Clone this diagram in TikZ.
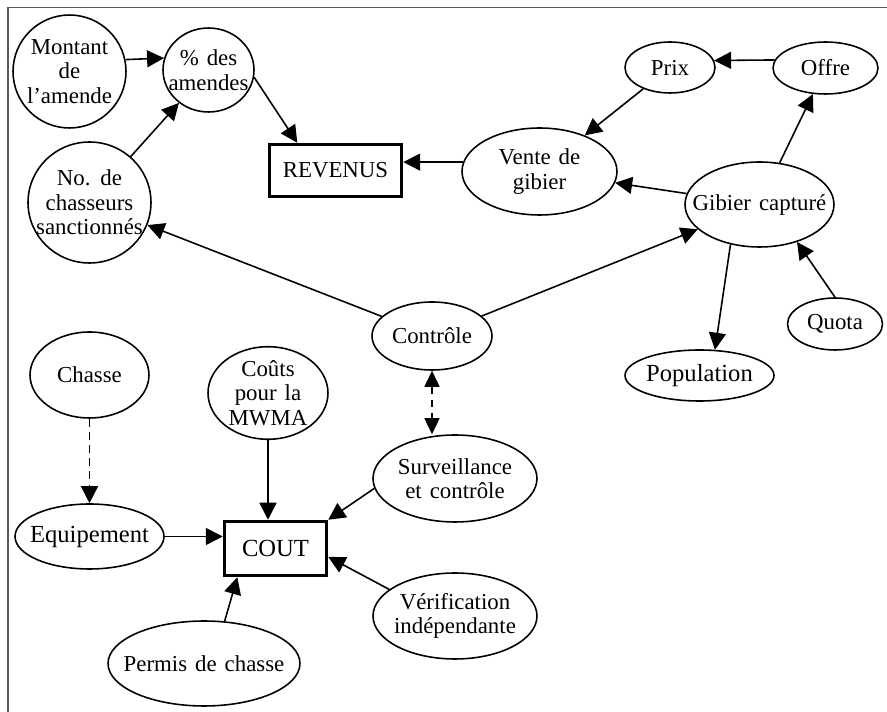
\documentclass[tikz,border=0pt]{standalone}
\usepackage{fontspec}
\setmainfont{Liberation Serif}
\usetikzlibrary{shapes.geometric,arrows.meta}
\newcommand\nodefont{\fontsize{13}{14}\selectfont\spaceskip=0.35em\relax}
\newcommand\bigfont{\fontsize{14}{15}\selectfont\spaceskip=0.35em\relax}

\begin{document}
\begin{tikzpicture}[x=0.02cm,y=-0.02cm,
	font=\nodefont,
	bigger/.style={font=\bigfont},
	bubble/.style 2 args={ellipse,draw,line width=0.9pt,inner xsep=-20pt,inner ysep=0pt,
		align=center,minimum width=#1,minimum height=#2},
	total/.style 2 args={rectangle,draw,line width=2pt,minimum width=#1,minimum height=#2},
	link/.style={-{Triangle[length=0.34cm,width=0.34cm]},line width=0.9pt},
	maybe/.style={link,dash pattern=on 4.5pt off 3pt},
	both/.style={{Triangle[length=0.32cm,width=0.3cm]}-{Triangle[length=0.32cm,width=0.3cm]},
		line width=0.9pt,dash pattern=on 4.5pt off 3pt}]
	\useasboundingbox (0,0) rectangle (887,712);
	% frame
	\draw[line width=0.9pt,black!65] (887,7.5) -- (8,7.5) -- (8,712);
	% revenue side
	\node[bubble={2.26cm}{2.26cm}] (montant) at (69.5,71.5) {Montant\\de\\l’amende};
	\node[bubble={1.82cm}{1.68cm}] (amendes) at (208.5,70) {\% des\\amendes};
	\node[bubble={2.46cm}{2.42cm}] (chasseurs) at (89.5,202.5) {No. de\\chasseurs\\sanctionnés};
	\node[total={2.64cm}{1.04cm}] (revenus) at (335.5,170.5) {REVENUS};
	\node[bubble={3.1cm}{1.74cm}] (vente) at (539.5,171.5) {Vente de\\gibier};
	\node[bubble={1.8cm}{1.02cm}] (prix) at (670,67.5) {Prix};
	\node[bubble={2.1cm}{1.04cm}] (offre) at (825.5,68) {Offre};
	\node[bubble={2.98cm}{1.7cm}] (gibier) at (759.5,204.5) {Gibier capturé};
	\node[bubble={1.9cm}{1.04cm}] (quota) at (835,324) {Quota};
	\node[bubble={2.98cm}{1.02cm},bigger] (population) at (699.5,375.5) {Population};
	\node[bubble={2.4cm}{1.36cm}] (controle) at (432,336) {Contrôle};
	% cost side
	\node[bubble={3.28cm}{1.74cm}] (surv) at (455,478.5) {Surveillance\\et contrôle};
	\node[bubble={3.28cm}{1.72cm}] (verif) at (455,616) {Vérification\\indépendante};
	\node[bubble={2.38cm}{1.72cm}] (chasse) at (89.5,375) {Chasse};
	\node[bubble={2.4cm}{1.72cm}] (mwma) at (268,393) {Coûts\\pour la\\MWMA};
	\node[bubble={2.98cm}{1.3cm},bigger] (equip) at (89.5,536.5) {Equipement};
	\node[total={2.04cm}{1.08cm},bigger] (cout) at (275.5,548.5) {COUT};
	\node[bubble={3.84cm}{1.7cm}] (permis) at (204,663.5) {Permis de chasse};
	% links
	\draw[link] (montant.12.7) -- (amendes.165.5);
	\draw[link] (chasseurs) -- (amendes);
	\draw[link] (amendes.-9) -- (revenus.144.5);
	\draw[link] (vente.173) -- (vente.173 -| revenus.east);
	\draw[link] (prix) -- (vente);
	\draw[link] (offre.171) -- (prix.9);
	\draw[link] (gibier) -- (offre);
	\draw[link] (gibier) -- (vente);
	\draw[link] (quota.north) -- (gibier.-45);
	\draw[link] (gibier.-126) -- (population.59);
	\draw[link] (controle) -- (chasseurs);
	\draw[link] (controle) -- (gibier);
	\draw[both] (controle.south) -- (controle.south |- surv.north);
	\draw[link] (surv.187) -- (cout.north east);
	\draw[link] (verif.158) -- (cout.-9);
	\draw[link] (mwma.south) -- (mwma.south |- cout.north);
	\draw[link] (equip.east) -- (equip.east -| cout.west);
	\draw[maybe] (chasse) -- (equip);
	\draw[link] (permis.64) -- (cout.-143);
\end{tikzpicture}
\end{document}
